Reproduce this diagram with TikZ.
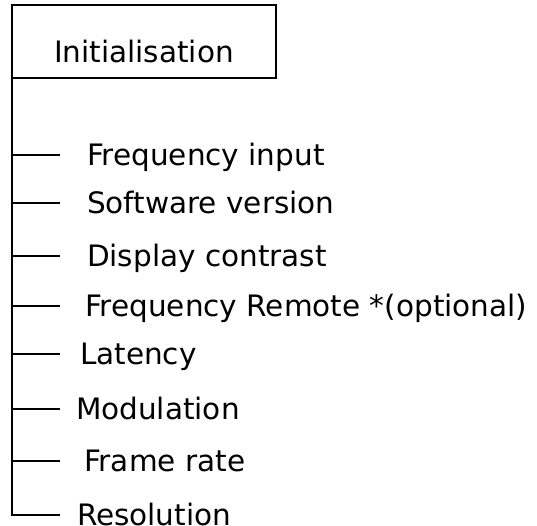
\documentclass[tikz,border=0pt]{standalone}
\usepackage{fontspec}
\setmainfont{DejaVu Sans}
\usepackage{tikz}
\usetikzlibrary{positioning}

\begin{document}
\begin{tikzpicture}[x=1pt, y=-1pt, line width=2pt, line join=miter,
    label/.style={inner sep=0pt, outer sep=0pt, text height=21.5pt, text depth=0pt, font=\fontsize{29.5}{35}\selectfont}]
    \useasboundingbox (0,0) rectangle (537,526);
    % Nodes
    \node (init) [draw, anchor=north west, inner sep=0pt, outer sep=0pt, minimum width=264pt, text height=58pt, text depth=15pt, font=\fontsize{29.5}{35}\selectfont] at (12,5) {Initialisation};

    \coordinate (s1) at (60,155);
    \coordinate (s2) at (60,203);
    \coordinate (s3) at (60,256);
    \coordinate (s4) at (60,306);
    \coordinate (s5) at (60,354);
    \coordinate (s6) at (60,409);
    \coordinate (s7) at (60,461);
    \coordinate (s8) at (60,515);

    \node (freq) [label, right=27pt of s1] {Frequency input};
    \node (soft) [label, right=27pt of s2] {Software version};
    \node (disp) [label, right=27pt of s3] {Display contrast};
    \node (remote) [label, right=25pt of s4] {Frequency Remote *(optional)};
    \node (lat) [label, right=20pt of s5] {Latency};
    \node (mod) [label, right=16pt of s6] {Modulation};
    \node (frame) [label, right=24pt of s7] {Frame rate};
    \node (res) [label, right=17pt of s8] {Resolution};

    % Edges
    \draw (init.south west) |- (s8);
    \draw (init.south west |- s1) -- (s1);
    \draw (init.south west |- s2) -- (s2);
    \draw (init.south west |- s3) -- (s3);
    \draw (init.south west |- s4) -- (s4);
    \draw (init.south west |- s5) -- (s5);
    \draw (init.south west |- s6) -- (s6);
    \draw (init.south west |- s7) -- (s7);
\end{tikzpicture}
\end{document}
